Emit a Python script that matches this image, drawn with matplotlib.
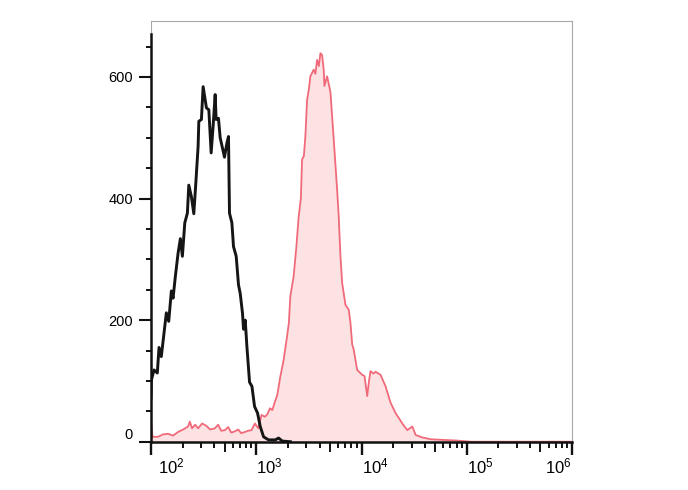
import math
import matplotlib
matplotlib.use("Agg")
import matplotlib.pyplot as plt
import matplotlib.transforms as mtransforms
from matplotlib.lines import Line2D
from matplotlib.ticker import FixedLocator, NullFormatter

plt.rcParams['font.family'] = ['Liberation Sans', 'DejaVu Sans']
plt.rcParams['mathtext.fontset'] = 'custom'
plt.rcParams['mathtext.rm'] = 'Liberation Sans'
plt.rcParams['mathtext.it'] = 'Liberation Sans:italic'
plt.rcParams['mathtext.default'] = 'regular'

# ---- data ----
control_x = [100, 100.7, 106.8, 114.8, 119.2, 125.3, 133.0, 139.9, 147.4, 156.1,
             162.0, 170.4, 180.8, 190.1, 198.7, 209.4, 221.7, 228.6, 242.0, 255.1,
             266.5, 280.3, 284.7, 301.3, 312.8, 336.3, 354.4, 372.8, 389.5, 407.0,
             415.9, 437.5, 454.1, 481.9, 499.1, 526.0, 544.8, 556.9, 586.9, 607.8,
             644.9, 678.2, 704.0, 740.5, 756.9, 785.7, 815.5, 863.4, 910.0, 963.4,
             1029, 1091, 1174, 1309, 1517, 1631, 1768, 2108]
control_y = [72, 101, 118, 113, 155, 140, 179, 212, 198, 248,
             236, 272, 310, 334, 305, 360, 376, 422, 403, 375,
             425, 486, 527, 530, 584, 549, 546, 475, 520, 571,
             530, 532, 500, 480, 468, 491, 502, 376, 360, 321,
             305, 258, 244, 211, 185, 200, 156, 98, 91, 58,
             47, 25, 8, 3, 3, 6, 1, 0]

sample_x = [100, 103.3, 116.6, 130.1, 145.2, 162.0, 180.8, 201.8, 225.1, 233.7,
            245.8, 262.4, 280.3, 306.0, 336.3, 364.7, 404.4, 434.5, 464.2, 503.3,
            541.3, 578.1, 626.9, 673.9, 719.7, 780.5, 838.8, 902.0, 971.8, 1045,
            1123, 1210, 1273, 1351, 1421, 1507, 1585, 1693, 1820, 1961,
            2040, 2108, 2266, 2404, 2529, 2654, 2724, 2834, 2929, 3040,
            3162, 3268, 3514, 3647, 3786, 3938, 4069, 4224, 4375, 4442,
            4713, 5068, 5447, 5869, 6078, 6310, 6549, 7041, 7569, 7857,
            8155, 8446, 9100, 10155, 10680, 11330, 11790, 12180, 13010, 13600,
            15170, 16930, 18890, 21080, 24420, 27240, 30400, 32680, 37860, 45410,
            58690, 78570, 109200, 1000000]
sample_y = [33, 8, 8, 12, 13, 10, 16, 20, 25, 33,
            22, 28, 22, 30, 26, 20, 22, 28, 18, 19,
            24, 15, 17, 20, 14, 16, 18, 19, 30, 22,
            44, 41, 45, 55, 52, 66, 77, 107, 134, 173,
            195, 239, 272, 320, 370, 400, 464, 470, 502, 562,
            580, 601, 612, 605, 628, 618, 639, 636, 612, 585,
            601, 575, 497, 414, 370, 305, 261, 225, 217, 195,
            160, 151, 118, 110, 108, 75, 100, 116, 112, 115,
            110, 91, 64, 47, 30, 19, 25, 11, 7, 4,
            3, 2, 0, 0]

y_major = [0, 200, 400, 600]
y_minor = [50, 100, 150, 250, 300, 350, 450, 500, 550, 650]
x_major = [1e2, 1e3, 1e4, 1e5, 1e6]
x_labels = [r'$10^{2}$', r'$10^{3}$', r'$10^{4}$', r'$10^{5}$', r'$10^{6}$']

# ---- figure ----
fig = plt.figure(figsize=(6.88, 4.90), dpi=100)
ax = fig.add_axes([151 / 688, 1 - 441.7 / 490, (572 - 151) / 688, (441.7 - 21) / 490])
ax.set_xscale('log')
ax.set_xlim(1e2, 1e6)
ax.set_ylim(0, 692)

ax.fill_between(sample_x, 0, sample_y, color='#fde2e4', lw=0, zorder=1)
ax.plot(sample_x, sample_y, color='#f06a7a', lw=1.3, zorder=2)
ax.plot(control_x, control_y, color='#151515', lw=2.1, zorder=3)

# spines
for s in ['top', 'right']:
    ax.spines[s].set_color('#a8a8a8')
    ax.spines[s].set_linewidth(0.8)
for s in ['left', 'bottom']:
    ax.spines[s].set_color('#111111')
    ax.spines[s].set_linewidth(1.8)
    ax.spines[s].set_zorder(4)
ax.spines['left'].set_bounds(0, 670)
ax.add_line(Line2D([0, 0], [670 / 692, 1], transform=ax.transAxes,
                   color='#a8a8a8', lw=0.8, clip_on=False))

# y ticks
ax.yaxis.set_major_locator(FixedLocator(y_major))
ax.yaxis.set_minor_locator(FixedLocator(y_minor))
ax.set_yticklabels([str(v) for v in y_major])
ax.tick_params(axis='y', which='major', direction='out', length=8.5, width=1.5,
               color='#111111', pad=4.5, labelsize=10.5)
ax.tick_params(axis='y', which='minor', direction='out', length=3.8, width=1.4,
               color='#111111')
ax.get_yticklabels()[0].set_verticalalignment('bottom')

# x ticks
x_minor = []
for d in [1e2, 1e3, 1e4, 1e5]:
    for m in range(2, 10):
        x_minor.append(d * m)
ax.xaxis.set_major_locator(FixedLocator(x_major))
ax.xaxis.set_minor_locator(FixedLocator(x_minor))
ax.xaxis.set_minor_formatter(NullFormatter())
ax.set_xticklabels(x_labels)
ax.tick_params(axis='x', which='major', direction='out', length=9.5, width=1.7,
               color='#111111', pad=1.5, labelsize=12)
ax.tick_params(axis='x', which='minor', direction='out', length=4.3, width=1.4,
               color='#111111')
minor_ticks = ax.xaxis.get_minor_ticks(len(x_minor))
for t, loc in zip(minor_ticks, x_minor):
    mant = loc / 10 ** math.floor(math.log10(loc) + 1e-9)
    if abs(mant - 5) < 1e-6:
        t.tick1line.set_markersize(7.0)

labels = ax.get_xticklabels()
for lab in labels:
    lab.set_horizontalalignment('left')
labels[0].set_transform(labels[0].get_transform() +
                        mtransforms.ScaledTranslation(5 / 72, 0, fig.dpi_scale_trans))
labels[-1].set_horizontalalignment('right')

fig.savefig('out.png', dpi=100)
